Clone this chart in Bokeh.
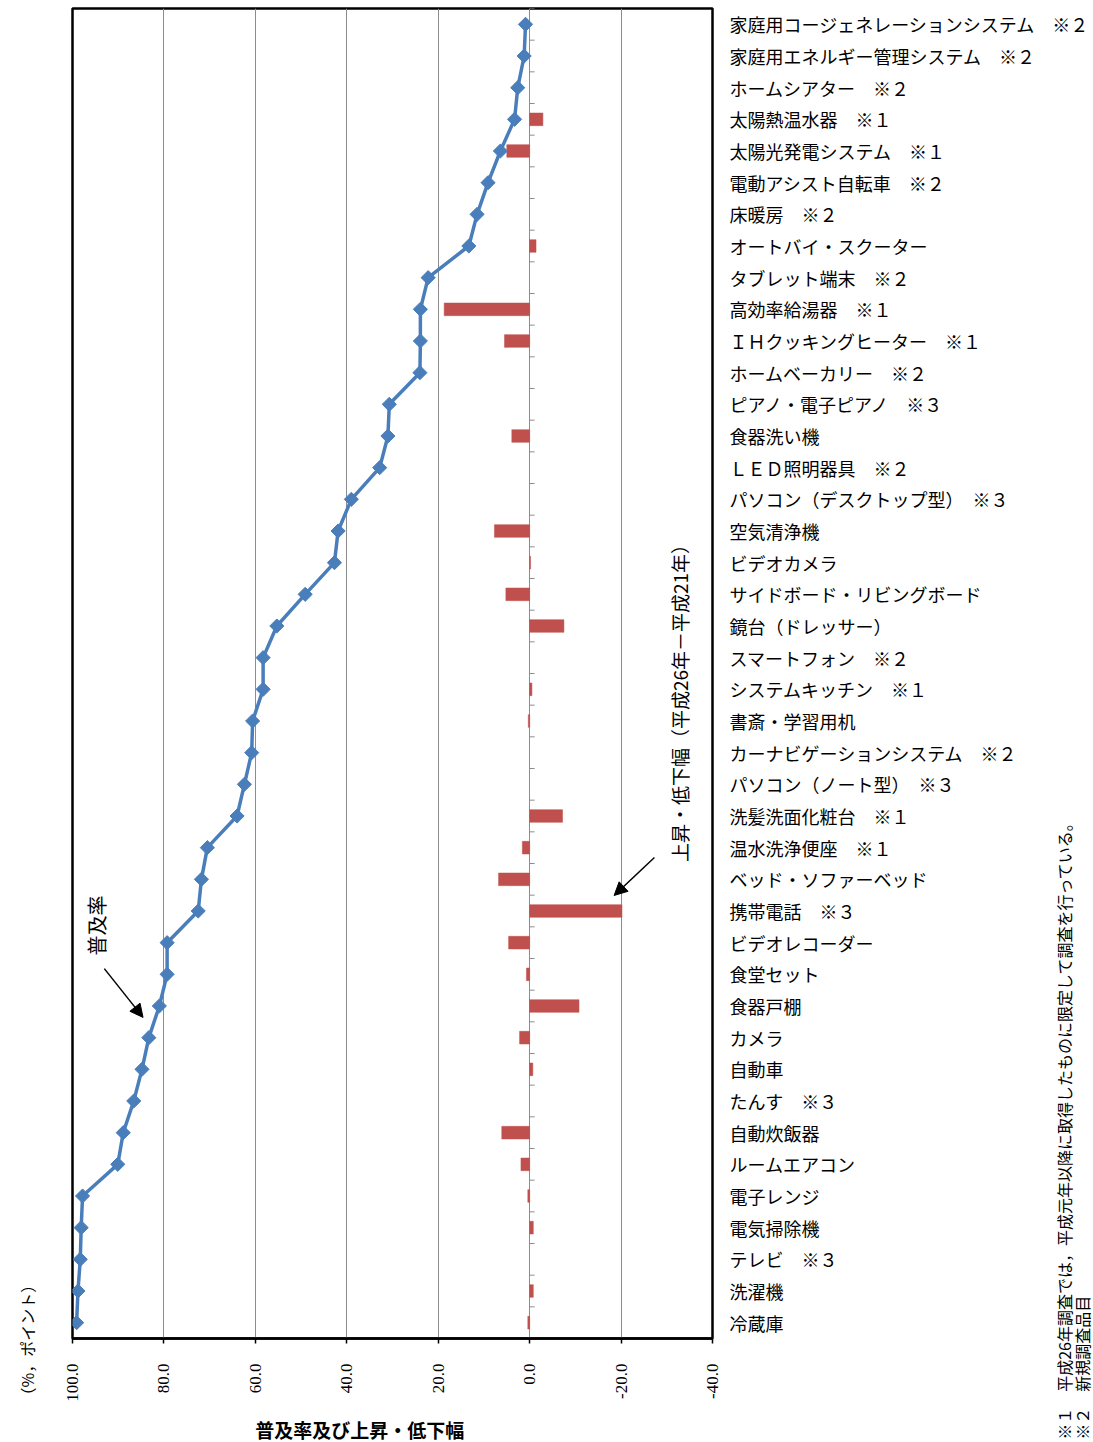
import math
from bokeh.plotting import figure
from bokeh.models import (Range1d, FixedTicker, Label, Arrow, NormalHead,
                          ColumnDataSource, PrintfTickFormatter)
from bokeh.embed import file_html
from bokeh.resources import INLINE

# ---------------- data (bottom -> top) ----------------
categories = [
    "冷蔵庫", "洗濯機", "テレビ　※３", "電気掃除機", "電子レンジ",
    "ルームエアコン", "自動炊飯器", "たんす　※３", "自動車", "カメラ",
    "食器戸棚", "食堂セット", "ビデオレコーダー", "携帯電話　※３",
    "ベッド・ソファーベッド", "温水洗浄便座　※１", "洗髪洗面化粧台　※１",
    "パソコン（ノート型）　※３", "カーナビゲーションシステム　※２",
    "書斎・学習用机", "システムキッチン　※１", "スマートフォン　※２",
    "鏡台（ドレッサー）", "サイドボード・リビングボード", "ビデオカメラ",
    "空気清浄機", "パソコン（デスクトップ型）　※３", "ＬＥＤ照明器具　※２",
    "食器洗い機", "ピアノ・電子ピアノ　※３", "ホームベーカリー　※２",
    "ＩＨクッキングヒーター　※１", "高効率給湯器　※１", "タブレット端末　※２",
    "オートバイ・スクーター", "床暖房　※２", "電動アシスト自転車　※２",
    "太陽光発電システム　※１", "太陽熱温水器　※１", "ホームシアター　※２",
    "家庭用エネルギー管理システム　※２",
    "家庭用コージェネレーションシステム　※２",
]

diffusion_rate = [
    99.1, 98.8, 98.3, 98.1, 97.8,
    90.1, 88.9, 86.6, 84.8, 83.3,
    81.0, 79.3, 79.3, 72.5,
    71.8, 70.5, 64.0,
    62.4, 60.8,
    60.6, 58.3, 58.3,
    55.3, 49.1, 42.7,
    41.9, 39.0, 32.8,
    31.0, 30.7, 24.0,
    23.9, 23.9, 22.2,
    13.3, 11.5, 9.1,
    6.4, 3.3, 2.6,
    1.2,
    0.9,
]

change = [
    0.4, -0.8, None, -0.8, 0.4,
    1.9, 6.1, None, -0.7, 2.2,
    -10.8, 0.7, 4.6, -20.2,
    6.8, 1.6, -7.2,
    None, None,
    0.3, -0.5, None,
    -7.5, 5.2, -0.2,
    7.7, None, None,
    3.9, None, None,
    5.5, 18.7, None,
    -1.4, None, None,
    5.0, -2.9, None,
    None,
    None,
]

value_ticks = [100, 80, 60, 40, 20, 0, -20, -40]

# ---------------- derived ----------------
n = len(categories)
pos = list(range(1, n + 1))
line_src = ColumnDataSource(dict(pos=pos, rate=diffusion_rate))
bar_pos = [p_ for p_, c in zip(pos, change) if c is not None]
bar_val = [c for c in change if c is not None]
bar_src = ColumnDataSource(dict(pos=bar_pos, val=bar_val))

BLUE = "#4A7EBB"
RED = "#C0504D"
GRID = "#8c8c8c"
JP = "Noto Sans CJK JP"

p = figure(width=1093, height=1442,
           x_range=Range1d(100, -40), y_range=Range1d(0.5, n + 0.5),
           output_backend="svg", toolbar_location=None,
           y_axis_location="right",
           min_border_left=68, min_border_right=381,
           min_border_top=8, min_border_bottom=104)
p.background_fill_color = "white"
p.border_fill_color = "white"
p.outline_line_color = "black"
p.outline_line_width = 2.5

# grid
p.xgrid.ticker = FixedTicker(ticks=value_ticks)
p.xgrid.grid_line_color = GRID
p.xgrid.grid_line_width = 1
p.ygrid.visible = False

# value axis (bottom)
xa = p.xaxis[0]
xa.ticker = FixedTicker(ticks=value_ticks)
xa.formatter = PrintfTickFormatter(format="%.1f")
xa.major_label_orientation = math.pi / 2
xa.major_label_text_font = "Liberation Serif"
xa.major_label_text_font_size = "17px"
xa.major_label_text_color = "black"
xa.major_label_standoff = 20
xa.axis_line_color = "black"
xa.axis_line_width = 2.5
xa.major_tick_line_color = "black"
xa.major_tick_line_width = 1.5
xa.major_tick_out = 5
xa.major_tick_in = 0
xa.minor_tick_line_color = None

# category labels (right)
ya = p.yaxis[0]
ya.ticker = FixedTicker(ticks=pos)
ya.major_label_overrides = {i: c for i, c in zip(pos, categories)}
ya.major_label_text_font = JP
ya.major_label_text_font_size = "18px"
ya.major_label_text_color = "black"
ya.major_label_standoff = 11
ya.axis_line_color = None
ya.major_tick_line_color = None
ya.minor_tick_line_color = None

# category axis tick marks on the zero line
px_per_unit = 644 / 140.0
bounds = [k + 0.5 for k in range(0, n + 1)]
p.segment(x0=[0] * len(bounds), x1=[-5 / px_per_unit] * len(bounds),
          y0=bounds, y1=bounds, line_color=GRID, line_width=1)

# bars: change (H26 - H21)
p.hbar(y="pos", left=0, right="val", height=0.4, source=bar_src,
       fill_color=RED, line_color=RED, line_width=0.5)

# line: diffusion rate
p.line(x="rate", y="pos", source=line_src, line_color=BLUE, line_width=3.5)
p.scatter(x="rate", y="pos", source=line_src, marker="square",
          angle=math.pi / 4, size=10, fill_color=BLUE, line_color=BLUE)

# annotations inside the frame
p.add_layout(Label(x=94.78, y=13.54, text="普及率", angle=math.pi / 2,
                   text_align="center", text_baseline="middle",
                   text_font=JP, text_font_size="20px", text_color="black"))
p.add_layout(Arrow(x_start=93.04, y_start=12.18, x_end=84.57, y_end=10.64,
                   line_color="black", line_width=1.5,
                   end=NormalHead(size=13, fill_color="black", line_color="black")))

p.add_layout(Label(x=-32.83, y=20.71, text="上昇・低下幅（平成26年－平成21年）",
                   angle=math.pi / 2, text_align="center", text_baseline="middle",
                   text_font=JP, text_font_size="19px", text_color="black"))
p.add_layout(Arrow(x_start=-27.30, y_start=15.69, x_end=-18.48, y_end=14.49,
                   line_color="black", line_width=1.5,
                   end=NormalHead(size=13, fill_color="black", line_color="black")))

# texts outside the frame: rotated ones go to the left panel (thin there),
# the horizontal title to the bottom panel, so that they are not clipped
p.add_layout(Label(x=110.0, y=-1.553, text="（%，ポイント）", angle=math.pi / 2,
                   text_align="left", text_baseline="middle",
                   text_font=JP, text_font_size="16px", text_color="black"), "left")

p.add_layout(Label(x=-116.96, y=-2.70,
                   text="※１　平成26年調査では，平成元年以降に取得したものに限定して調査を行っている。",
                   angle=math.pi / 2, text_align="left", text_baseline="middle",
                   text_font=JP, text_font_size="16px", text_color="black"), "left")
p.add_layout(Label(x=-120.87, y=-2.70, text="※２　新規調査品目",
                   angle=math.pi / 2, text_align="left", text_baseline="middle",
                   text_font=JP, text_font_size="16px", text_color="black"), "left")

p.add_layout(Label(x=37.17, y=-2.38, text="普及率及び上昇・低下幅",
                   text_align="center", text_baseline="middle",
                   text_font=JP, text_font_size="19px", text_font_style="bold",
                   text_color="black"), "below")

open("out.html", "w").write(file_html(p, INLINE))
